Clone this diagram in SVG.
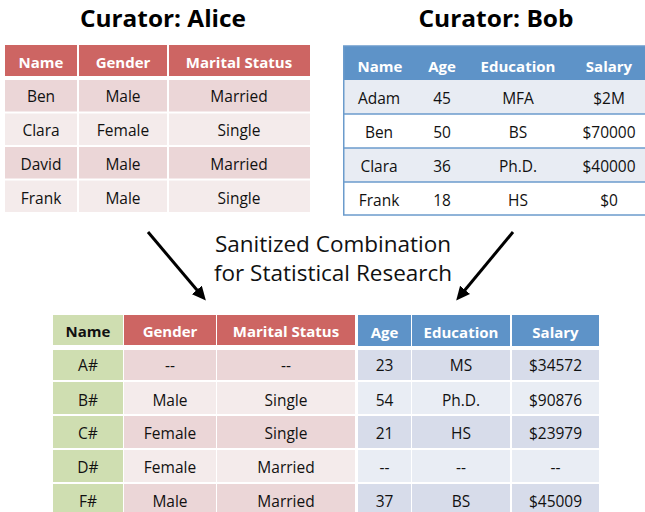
<svg xmlns="http://www.w3.org/2000/svg" width="645" height="512" viewBox="0 0 645 512">
<style>
text{font-family:"Open Sans","Liberation Sans",sans-serif;text-anchor:middle;fill:#111}
.t{font-size:15.5px}
.h{font-size:15px;font-weight:bold;fill:#fff}
.hk{font-size:15px;font-weight:bold;fill:#111}
.title{font-size:24px;font-weight:bold;fill:#000}
.mid{font-size:22.5px;fill:#111}
.rh{fill:#cd6563}.rd{fill:#ebd6d7}.rl{fill:#f4ebeb}
.bh{fill:#5e93c8}.bd{fill:#d7dcea}.bl{fill:#e9edf4}
.g{fill:#cfdeb1}
.conn{stroke:#000;stroke-width:3;fill:none}
</style>
<defs>
<marker id="ah" markerWidth="14" markerHeight="13" refX="8" refY="6.5" orient="auto" markerUnits="userSpaceOnUse" viewBox="0 0 14 13">
<path d="M0,0 L14,6.5 L0,13 z" fill="#000"/>
</marker>
</defs>
<rect width="645" height="512" fill="#fff"/>

<g id="alice">
<text class="title" x="163" y="27" textLength="166" lengthAdjust="spacingAndGlyphs">Curator: Alice</text>
<rect class="rh" x="5" y="45" width="72" height="31"/>
<rect class="rh" x="79" y="45" width="88" height="31"/>
<rect class="rh" x="169" y="45" width="141" height="31"/>
<text class="h" x="41" y="68">Name</text>
<text class="h" x="123" y="68">Gender</text>
<text class="h" x="239" y="68">Marital Status</text>
<rect class="rd" x="5" y="80" width="72" height="31.5"/><rect class="rd" x="79" y="80" width="88" height="31.5"/><rect class="rd" x="169" y="80" width="141" height="31.5"/>
<rect class="rl" x="5" y="113.5" width="72" height="31.5"/><rect class="rl" x="79" y="113.5" width="88" height="31.5"/><rect class="rl" x="169" y="113.5" width="141" height="31.5"/>
<rect class="rd" x="5" y="147" width="72" height="31.5"/><rect class="rd" x="79" y="147" width="88" height="31.5"/><rect class="rd" x="169" y="147" width="141" height="31.5"/>
<rect class="rl" x="5" y="180.5" width="72" height="31.5"/><rect class="rl" x="79" y="180.5" width="88" height="31.5"/><rect class="rl" x="169" y="180.5" width="141" height="31.5"/>
<text class="t" x="41" y="102">Ben</text><text class="t" x="123" y="102">Male</text><text class="t" x="239" y="102">Married</text>
<text class="t" x="41" y="136">Clara</text><text class="t" x="123" y="136">Female</text><text class="t" x="239" y="136">Single</text>
<text class="t" x="41" y="170">David</text><text class="t" x="123" y="170">Male</text><text class="t" x="239" y="170">Married</text>
<text class="t" x="41" y="204">Frank</text><text class="t" x="123" y="204">Male</text><text class="t" x="239" y="204">Single</text>
</g>

<g id="bob">
<text class="title" x="496" y="27" textLength="155" lengthAdjust="spacingAndGlyphs">Curator: Bob</text>
<rect class="bh" x="343" y="46" width="310" height="34"/>
<rect fill="#e8ecf3" x="343" y="80" width="310" height="34"/>
<rect fill="#fff" x="343" y="114" width="310" height="34"/>
<rect fill="#e8ecf3" x="343" y="148" width="310" height="34"/>
<rect fill="#fff" x="343" y="182" width="310" height="33"/>
<g stroke="#6b9bcc" stroke-width="1.5" fill="none">
<rect x="343.75" y="46" width="310" height="169"/>
<line x1="343" y1="114" x2="645" y2="114"/>
<line x1="343" y1="148" x2="645" y2="148"/>
<line x1="343" y1="182" x2="645" y2="182"/>
</g>
<text class="h" x="380" y="72">Name</text><text class="h" x="442" y="72">Age</text><text class="h" x="518" y="72">Education</text><text class="h" x="609" y="72">Salary</text>
<text class="t" x="379" y="104">Adam</text><text class="t" x="442" y="104">45</text><text class="t" x="518" y="104">MFA</text><text class="t" x="609" y="104">$2M</text>
<text class="t" x="379" y="138">Ben</text><text class="t" x="442" y="138">50</text><text class="t" x="518" y="138">BS</text><text class="t" x="609" y="138">$70000</text>
<text class="t" x="379" y="172">Clara</text><text class="t" x="442" y="172">36</text><text class="t" x="518" y="172">Ph.D.</text><text class="t" x="609" y="172">$40000</text>
<text class="t" x="379" y="206">Frank</text><text class="t" x="442" y="206">18</text><text class="t" x="518" y="206">HS</text><text class="t" x="609" y="206">$0</text>
</g>

<g id="label">
<text class="mid" x="333" y="252">Sanitized Combination</text>
<text class="mid" x="333" y="281">for Statistical Research</text>
</g>

<g id="connectors">
<line class="conn" x1="148" y1="232" x2="202" y2="296" marker-end="url(#ah)"/>
<line class="conn" x1="513" y1="232" x2="460" y2="296" marker-end="url(#ah)"/>
</g>

<g id="combined">
<rect class="g" x="53" y="315" width="70" height="30"/>
<rect class="rh" x="124" y="315" width="92" height="30"/>
<rect class="rh" x="217" y="315" width="138" height="30"/>
<rect class="bh" x="358" y="315" width="53" height="31"/>
<rect class="bh" x="412" y="315" width="98" height="31"/>
<rect class="bh" x="512" y="315" width="87" height="31"/>
<text class="hk" x="88" y="337">Name</text>
<text class="h" x="170" y="337">Gender</text>
<text class="h" x="286" y="337">Marital Status</text>
<text class="h" x="384.5" y="338">Age</text>
<text class="h" x="461" y="338">Education</text>
<text class="h" x="555.5" y="338">Salary</text>

<g>
<rect class="g" x="53" y="350" width="70" height="30"/><rect class="rd" x="124" y="350" width="92" height="30"/><rect class="rd" x="217" y="350" width="138" height="30"/>
<rect class="bd" x="358" y="350" width="53" height="30"/><rect class="bd" x="412" y="350" width="98" height="30"/><rect class="bd" x="512" y="350" width="87" height="30"/>
<rect class="g" x="53" y="382" width="70" height="32"/><rect class="rl" x="124" y="382" width="92" height="32"/><rect class="rl" x="217" y="382" width="138" height="32"/>
<rect class="bl" x="358" y="382" width="53" height="32"/><rect class="bl" x="412" y="382" width="98" height="32"/><rect class="bl" x="512" y="382" width="87" height="32"/>
<rect class="g" x="53" y="416" width="70" height="32"/><rect class="rd" x="124" y="416" width="92" height="32"/><rect class="rd" x="217" y="416" width="138" height="32"/>
<rect class="bd" x="358" y="416" width="53" height="32"/><rect class="bd" x="412" y="416" width="98" height="32"/><rect class="bd" x="512" y="416" width="87" height="32"/>
<rect class="g" x="53" y="450" width="70" height="32"/><rect class="rl" x="124" y="450" width="92" height="32"/><rect class="rl" x="217" y="450" width="138" height="32"/>
<rect class="bl" x="358" y="450" width="53" height="32"/><rect class="bl" x="412" y="450" width="98" height="32"/><rect class="bl" x="512" y="450" width="87" height="32"/>
<rect class="g" x="53" y="484" width="70" height="32"/><rect class="rd" x="124" y="484" width="92" height="32"/><rect class="rd" x="217" y="484" width="138" height="32"/>
<rect class="bd" x="358" y="484" width="53" height="32"/><rect class="bd" x="412" y="484" width="98" height="32"/><rect class="bd" x="512" y="484" width="87" height="32"/>
</g>
<text class="t" x="88" y="371">A#</text><text class="t" x="170" y="371">--</text><text class="t" x="286" y="371">--</text><text class="t" x="384.5" y="371">23</text><text class="t" x="461" y="371">MS</text><text class="t" x="555.5" y="371">$34572</text>
<text class="t" x="88" y="406">B#</text><text class="t" x="170" y="406">Male</text><text class="t" x="286" y="406">Single</text><text class="t" x="384.5" y="406">54</text><text class="t" x="461" y="406">Ph.D.</text><text class="t" x="555.5" y="406">$90876</text>
<text class="t" x="88" y="439">C#</text><text class="t" x="170" y="439">Female</text><text class="t" x="286" y="439">Single</text><text class="t" x="384.5" y="439">21</text><text class="t" x="461" y="439">HS</text><text class="t" x="555.5" y="439">$23979</text>
<text class="t" x="88" y="473">D#</text><text class="t" x="170" y="473">Female</text><text class="t" x="286" y="473">Married</text><text class="t" x="384.5" y="473">--</text><text class="t" x="461" y="473">--</text><text class="t" x="555.5" y="473">--</text>
<text class="t" x="88" y="507">F#</text><text class="t" x="170" y="507">Male</text><text class="t" x="286" y="507">Married</text><text class="t" x="384.5" y="507">37</text><text class="t" x="461" y="507">BS</text><text class="t" x="555.5" y="507">$45009</text>
</g>
</svg>
